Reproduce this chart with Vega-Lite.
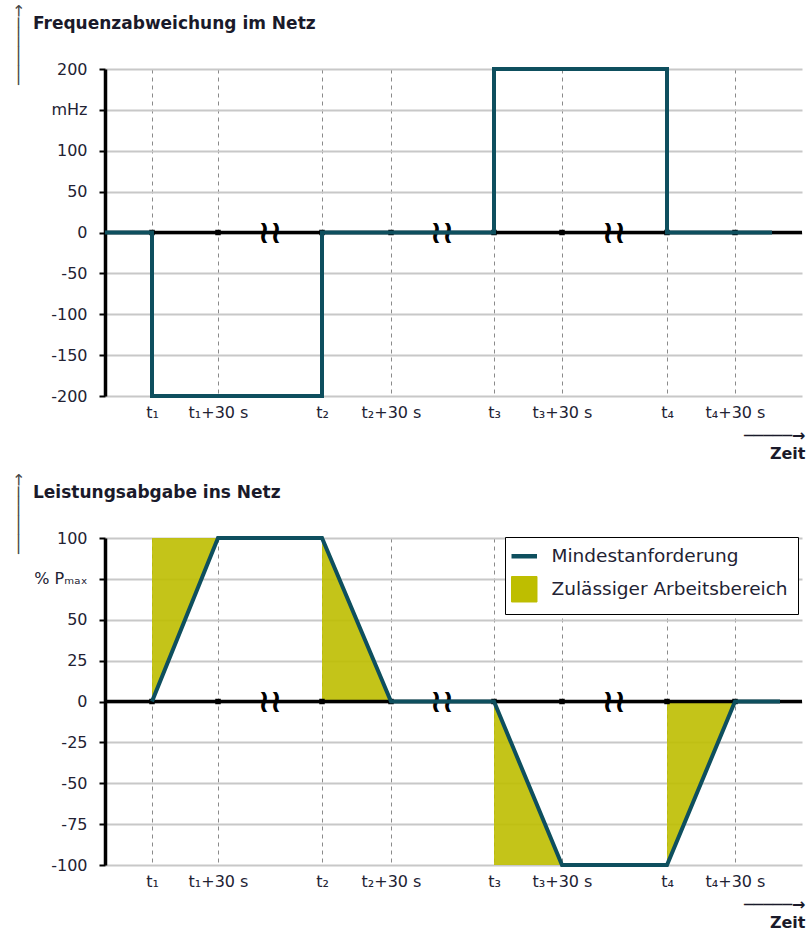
{
  "$schema": "https://vega.github.io/schema/vega-lite/v6.json",
  "background": "white",
  "padding": {"left": 10, "top": 3, "right": 0, "bottom": 0},
  "bounds": "flush",
  "spacing": 142,
  "resolve": {"scale": {"color": "independent"}, "legend": {"color": "independent"}},
  "config": {
    "view": {"stroke": null},
    "font": "DejaVu Sans",
    "axis": {"labelFont": "DejaVu Sans", "labelColor": "#222233", "titleFont": "DejaVu Sans"},
    "axisX": {"domain": false, "ticks": false, "grid": true, "gridDash": [4, 4], "gridColor": "#8a8a8a", "gridWidth": 1, "labelPadding": 8, "labelFontSize": 16, "labelAngle": 0, "labelOverlap": false, "labelFlush": false},
    "axisY": {"domainColor": "black", "domainWidth": 3.5, "tickColor": "black", "tickSize": 6, "tickWidth": 2, "grid": true, "gridColor": "#c8c8c8", "gridWidth": 2, "labelPadding": 12, "labelFontSize": 16, "labelOverlap": false}
  },
  "datasets": {
    "freq": [
      {"i": 0, "x": 0, "y": 0}, {"i": 1, "x": 47, "y": 0}, {"i": 2, "x": 47, "y": -200},
      {"i": 3, "x": 217, "y": -200}, {"i": 4, "x": 217, "y": 0}, {"i": 5, "x": 389, "y": 0},
      {"i": 6, "x": 389, "y": 200}, {"i": 7, "x": 562, "y": 200}, {"i": 8, "x": 562, "y": 0},
      {"i": 9, "x": 667, "y": 0}
    ],
    "power": [
      {"i": 0, "x": 47, "y": 0, "kind": "Mindestanforderung"},
      {"i": 1, "x": 113, "y": 100, "kind": "Mindestanforderung"},
      {"i": 2, "x": 217, "y": 100, "kind": "Mindestanforderung"},
      {"i": 3, "x": 286, "y": 0, "kind": "Mindestanforderung"},
      {"i": 4, "x": 389, "y": 0, "kind": "Mindestanforderung"},
      {"i": 5, "x": 457, "y": -100, "kind": "Mindestanforderung"},
      {"i": 6, "x": 562, "y": -100, "kind": "Mindestanforderung"},
      {"i": 7, "x": 630, "y": 0, "kind": "Mindestanforderung"},
      {"i": 8, "x": 675, "y": 0, "kind": "Mindestanforderung"}
    ],
    "areas": [
      {"seg": 1, "x": 47, "y": 0, "y2": 100, "kind": "Zulässiger Arbeitsbereich"},
      {"seg": 1, "x": 113, "y": 100, "y2": 100, "kind": "Zulässiger Arbeitsbereich"},
      {"seg": 2, "x": 217, "y": 0, "y2": 100, "kind": "Zulässiger Arbeitsbereich"},
      {"seg": 2, "x": 286, "y": 0, "y2": 0, "kind": "Zulässiger Arbeitsbereich"},
      {"seg": 3, "x": 389, "y": -100, "y2": 0, "kind": "Zulässiger Arbeitsbereich"},
      {"seg": 3, "x": 457, "y": -100, "y2": -100, "kind": "Zulässiger Arbeitsbereich"},
      {"seg": 4, "x": 562, "y": -100, "y2": 0, "kind": "Zulässiger Arbeitsbereich"},
      {"seg": 4, "x": 630, "y": 0, "y2": 0, "kind": "Zulässiger Arbeitsbereich"}
    ],
    "zero": [{"x": 0, "y": 0}, {"x": 697, "y": 0}],
    "ticks": [
      {"x": 47, "y": 0}, {"x": 113, "y": 0}, {"x": 217, "y": 0}, {"x": 286, "y": 0},
      {"x": 389, "y": 0}, {"x": 457, "y": 0}, {"x": 562, "y": 0}, {"x": 630, "y": 0}
    ],
    "breaks": [{"x": 165, "y": 0}, {"x": 337, "y": 0}, {"x": 509, "y": 0}]
  },
  "vconcat": [
    {
      "width": 697,
      "height": 327,
      "title": {"text": "Frequenzabweichung im Netz", "anchor": "start", "frame": "group", "dx": -72, "offset": -29, "fontSize": 17, "fontWeight": "bold", "font": "DejaVu Sans", "color": "#1a1a2a"},
      "encoding": {
        "x": {"field": "x", "type": "quantitative", "scale": {"domain": [0, 697], "nice": false, "zero": false},
          "axis": {"values": [47, 113, 217, 286, 389, 457, 562, 630],
            "labelExpr": "['t₁','t₁+30 s','t₂','t₂+30 s','t₃','t₃+30 s','t₄','t₄+30 s'][indexof([47,113,217,286,389,457,562,630], datum.value)]",
            "title": ["─────→", "Zeit"], "titleFontSize": 16, "titleFontWeight": "bold", "titleColor": "#1a1a2a", "titleAnchor": "end", "titleAlign": "right", "titleBaseline": "top", "titleLineHeight": 18, "titleX": 700, "titleY": 31}},
        "y": {"field": "y", "type": "quantitative", "scale": {"domain": [-200, 200], "nice": false},
          "axis": {"values": [-200, -150, -100, -50, 0, 50, 100, 150, 200],
            "labelExpr": "datum.value == 150 ? 'mHz' : '' + datum.value",
            "title": "───────→", "titleAngle": 270, "titleX": -87, "titleY": -25, "titleAlign": "center", "titleBaseline": "middle", "titleFontWeight": "normal", "titleFontSize": 16, "titleColor": "#444444"}}
      },
      "layer": [
        {"data": {"name": "zero"}, "mark": {"type": "line", "color": "black", "strokeWidth": 3.5}, "encoding": {}},
        {"data": {"name": "ticks"}, "mark": {"type": "point", "shape": "square", "filled": true, "size": 30, "color": "black", "opacity": 1}, "encoding": {}},
        {"data": {"name": "breaks"}, "mark": {"type": "text", "text": "≀≀", "font": "DejaVu Sans", "fontSize": 32, "fontWeight": "bold", "color": "black", "align": "center", "baseline": "middle"}, "encoding": {}},
        {"data": {"name": "freq"}, "mark": {"type": "line", "color": "#0e4f5e", "strokeWidth": 4}, "encoding": {"order": {"field": "i", "type": "quantitative"}}}
      ]
    },
    {
      "width": 697,
      "height": 327,
      "title": {"text": "Leistungsabgabe ins Netz", "anchor": "start", "frame": "group", "dx": -72, "offset": -29, "fontSize": 17, "fontWeight": "bold", "font": "DejaVu Sans", "color": "#1a1a2a"},
      "encoding": {
        "x": {"field": "x", "type": "quantitative", "scale": {"domain": [0, 697], "nice": false, "zero": false},
          "axis": {"values": [47, 113, 217, 286, 389, 457, 562, 630],
            "labelExpr": "['t₁','t₁+30 s','t₂','t₂+30 s','t₃','t₃+30 s','t₄','t₄+30 s'][indexof([47,113,217,286,389,457,562,630], datum.value)]",
            "title": ["─────→", "Zeit"], "titleFontSize": 16, "titleFontWeight": "bold", "titleColor": "#1a1a2a", "titleAnchor": "end", "titleAlign": "right", "titleBaseline": "top", "titleLineHeight": 18, "titleX": 700, "titleY": 31}},
        "y": {"field": "y", "type": "quantitative", "scale": {"domain": [-100, 100], "nice": false},
          "axis": {"values": [-100, -75, -50, -25, 0, 25, 50, 75, 100],
            "labelExpr": "datum.value == 75 ? '% Pₘₐₓ' : '' + datum.value",
            "title": "───────→", "titleAngle": 270, "titleX": -87, "titleY": -25, "titleAlign": "center", "titleBaseline": "middle", "titleFontWeight": "normal", "titleFontSize": 16, "titleColor": "#444444"}}
      },
      "layer": [
        {"data": {"name": "areas"}, "mark": {"type": "area", "opacity": 0.9},
          "encoding": {
            "y2": {"field": "y2"},
            "detail": {"field": "seg", "type": "nominal"},
            "color": {"field": "kind", "type": "nominal",
              "scale": {"domain": ["Mindestanforderung", "Zulässiger Arbeitsbereich"], "range": ["#0e4f5e", "#bebe00"]},
              "legend": {"title": null, "orient": "none", "legendX": 400, "legendY": -1, "padding": 10, "strokeColor": "black", "fillColor": "white", "labelFont": "DejaVu Sans", "labelFontSize": 18.5, "labelColor": "#222233", "labelOffset": 18, "labelLimit": 0, "rowPadding": 8, "symbolSize": 650, "symbolType": "square", "symbolOpacity": 1,
                "encode": {"symbols": {"update": {
                  "shape": {"signal": "datum.value === 'Mindestanforderung' ? 'stroke' : 'square'"},
                  "fill": {"signal": "datum.value === 'Mindestanforderung' ? 'transparent' : '#bebe00'"},
                  "stroke": {"signal": "datum.value === 'Mindestanforderung' ? '#0e4f5e' : '#bebe00'"},
                  "strokeWidth": {"signal": "datum.value === 'Mindestanforderung' ? 4.5 : 1"},
                  "opacity": {"value": 1}
                }}}}}
          }},
        {"data": {"name": "zero"}, "mark": {"type": "line", "color": "black", "strokeWidth": 3.5}, "encoding": {}},
        {"data": {"name": "ticks"}, "mark": {"type": "point", "shape": "square", "filled": true, "size": 30, "color": "black", "opacity": 1}, "encoding": {}},
        {"data": {"name": "breaks"}, "mark": {"type": "text", "text": "≀≀", "font": "DejaVu Sans", "fontSize": 32, "fontWeight": "bold", "color": "black", "align": "center", "baseline": "middle"}, "encoding": {}},
        {"data": {"name": "power"}, "mark": {"type": "line", "strokeWidth": 4},
          "encoding": {"order": {"field": "i", "type": "quantitative"}, "color": {"field": "kind", "type": "nominal"}}}
      ]
    }
  ]
}
